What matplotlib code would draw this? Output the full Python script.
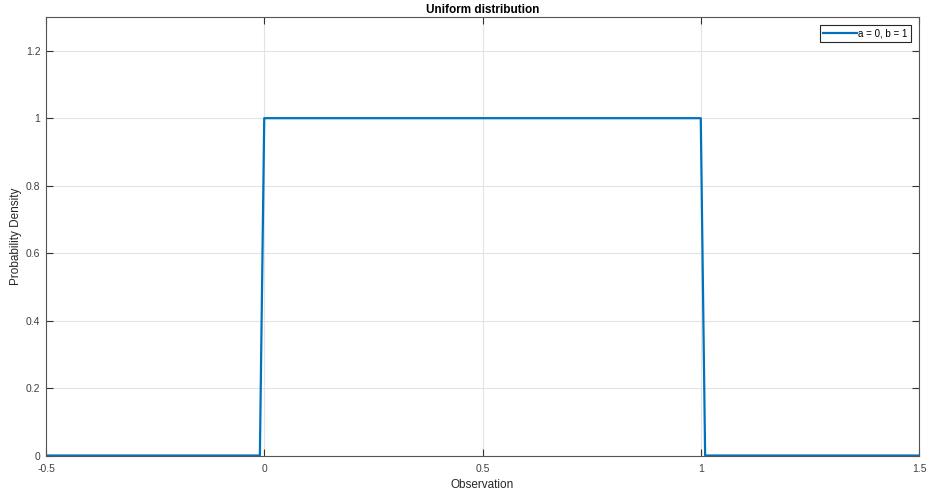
import matplotlib
matplotlib.use("Agg")
import matplotlib.pyplot as plt
from matplotlib.ticker import FuncFormatter

plt.rcParams['font.family'] = ['Liberation Sans', 'DejaVu Sans']

# pdf of U(0, 1) sampled on a 0.01 grid (only the corner points kept)
obs = [-0.5, -0.01, 0.0, 1.0, 1.01, 1.5]
density = [0, 0, 1, 1, 0, 0]
label = 'a = 0, b = 1'

xticks = [-0.5, 0, 0.5, 1, 1.5]
yticks = [0, 0.2, 0.4, 0.6, 0.8, 1.0, 1.2]

fig = plt.figure(figsize=(9.27, 4.98), dpi=100)
ax = fig.add_axes([0.0496, 0.0853, 0.9418, 0.8806])

ax.plot(obs, density, color='#0072BD', lw=1.6, label=label)

ax.set_xlim(-0.5, 1.5)
ax.set_ylim(0, 1.3)
ax.set_xticks(xticks)
ax.set_yticks(yticks)
fmt = FuncFormatter(lambda v, p: '%g' % v)
ax.xaxis.set_major_formatter(fmt)
ax.yaxis.set_major_formatter(fmt)

ax.grid(True, color='#e3e3e3', lw=0.8)
ax.set_axisbelow(True)
ax.tick_params(direction='in', length=5, width=0.8, colors='#333333',
               labelcolor='#404040', labelsize=7.5, top=True, right=True)
ax.tick_params(axis='x', pad=6)
ax.tick_params(axis='y', pad=4)
for s in ax.spines.values():
    s.set_color('#555555')
    s.set_linewidth(0.8)

ax.set_title('Uniform distribution', fontsize=8.5, fontweight='bold', pad=3)
ax.set_xlabel('Observation', fontsize=8.5, color='#262626', labelpad=4)
ax.set_ylabel('Probability Density', fontsize=8.5, color='#262626', labelpad=3)

leg = ax.legend(loc='upper right', fontsize=7, fancybox=False, framealpha=1,
                handlelength=3.4, handletextpad=0.2, borderpad=0.35,
                borderaxespad=0.8)
leg.get_frame().set_edgecolor('#262626')
leg.get_frame().set_linewidth(0.8)

fig.savefig('out.png', dpi=100)
